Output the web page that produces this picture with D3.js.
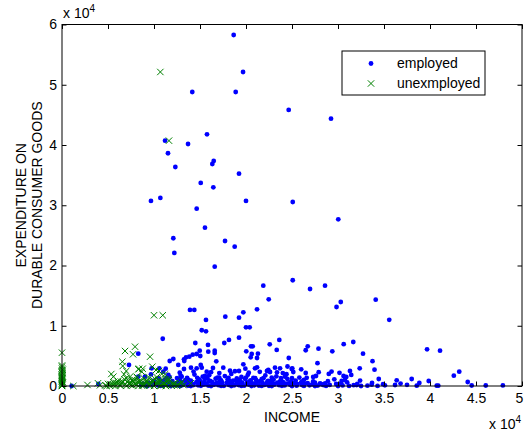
<!DOCTYPE html>
<html>
<head>
<meta charset="utf-8">
<script src="https://d3js.org/d3.v7.min.js"></script>
<style>
    body { margin: 0; background: #fff; }
    text { font-family: "Liberation Sans", Arial, sans-serif; }
</style>
</head>
<body>
<div id="chart"></div>
<script>
// income, expenditure on durable goods
var employed = [
    [18660, 58260], [19680, 52120], [14160, 48800], [18880, 48800], [24640, 45820], [29240, 44370],
    [15760, 41780], [11200, 40720], [13700, 40170], [11520, 38630], [12320, 36350], [16490, 37350],
    [16340, 36850], [19240, 35240], [15080, 33700], [16450, 32980], [9670, 30710], [10690, 31210],
    [20000, 30710], [25080, 30540], [14640, 29430], [30030, 27670], [15540, 26280], [12100, 24520],
    [17720, 24070], [18770, 23120], [12210, 22080], [16600, 19800], [25080, 17550], [21880, 16650],
    [22470, 14390], [26960, 16100], [28590, 16650], [19710, 12230], [19240, 11340], [21200, 12730],
    [29840, 13110], [30300, 13940], [34100, 14330], [35570, 10990], [13910, 12620], [14380, 12620],
    [15650, 10960], [17750, 11500], [20000, 9740], [20400, 9740], [15190, 9250], [15650, 9080],
    [10950, 7840], [18150, 7640], [19240, 8020], [23620, 7640], [17640, 7140], [14490, 7140],
    [15870, 6810], [20540, 6590], [20730, 6590], [22580, 6920], [26490, 5930], [26710, 6590],
    [27880, 6190], [29380, 5760], [30620, 6940], [31660, 7300], [32720, 5360], [39680, 6090],
    [41090, 5860], [20030, 5760], [21300, 5360], [20620, 5310], [21200, 4650], [20510, 4760],
    [16600, 5860], [16600, 5480], [14970, 5860], [15900, 5690], [15030, 4980], [14210, 5200],
    [14640, 5310], [13480, 4760], [13840, 4860], [13290, 4150], [13260, 4430], [11710, 4150],
    [12100, 4480], [16770, 4100], [8290, 5360], [23340, 5980], [24650, 4650], [27770, 3790],
    [33750, 4120], [19710, 3600], [15080, 3490], [12640, 3490], [7280, 3490], [24510, 3240],
    [21200, 3100], [23150, 3040], [14020, 3040], [15190, 3040], [17530, 3040], [16410, 2990],
    [20980, 2940], [19930, 2870], [23700, 2940], [25030, 2940], [32360, 2940], [14640, 2940],
    [11270, 2870], [10580, 2940], [9750, 2940], [13260, 2820], [24970, 2820], [26000, 2770],
    [33970, 2710], [22430, 2660], [18260, 2540], [19240, 2490], [22280, 2490], [11010, 2370],
    [15730, 2370], [43180, 2370], [22610, 2320], [25140, 2320], [23370, 2270], [30160, 2190],
    [26490, 2160], [9670, 1940], [31440, 1830], [11560, 1830], [15540, 1660], [27610, 1660],
    [30600, 1660], [42590, 1710], [24240, 1540], [13010, 1540], [9020, 1540], [8290, 1540],
    [27300, 1490], [34430, 1160], [38010, 1160], [13730, 1000], [30760, 1000], [36380, 950],
    [39860, 830], [30400, 830], [18260, 710], [44100, 660], [23700, 500], [38840, 500],
    [28050, 450], [3950, 330], [33660, 220], [32030, 170], [36200, 170], [28400, 170],
    [1050, 0], [44530, 80], [46060, 80], [47920, 100], [40730, 50], [40900, 50], [38560, 60]
];

// the crowded strip near zero expenditure
var employedLow = [
    [8600, 150], [9100, 80], [9800, 220], [10400, 120], [11000, 60], [11500, 260], [12100, 140],
    [12600, 90], [13200, 200], [13700, 50], [14300, 170], [14800, 110], [15400, 240], [15900, 70],
    [16500, 190], [17000, 130], [17600, 30], [18100, 210], [18700, 100], [19200, 160], [19800, 60],
    [20300, 230], [20900, 120], [21400, 80], [22000, 180], [22500, 40], [23100, 250], [23600, 140],
    [24200, 90], [24800, 200], [25500, 60], [26100, 150], [26900, 110], [27800, 70], [29100, 180],
    [30500, 90], [31700, 140], [33200, 60], [35100, 120],
    [9300, 0], [10700, 20], [11800, 0], [12900, 10], [14000, 0], [15100, 30], [16200, 0], [17300, 10],
    [18400, 0], [19500, 20], [20600, 0], [21700, 10], [22800, 0], [23900, 30], [25000, 0], [26300, 10],
    [27500, 0], [28700, 20], [30000, 0], [31200, 10], [32500, 0], [34300, 20],
    [8800, 380], [10400, 300], [11100, 350], [12900, 360], [13900, 420], [15000, 370], [16600, 330],
    [18100, 390], [19400, 360], [21000, 400], [22700, 350], [24300, 380], [26400, 360], [28200, 300],
    [30300, 410], [32100, 330],
    [9700, 330], [12300, 350], [14000, 300], [15600, 330], [17300, 310], [19000, 340], [20600, 320],
    [22200, 300], [23900, 350], [25600, 310], [27200, 280], [29800, 330],
    [9400, 520], [10100, 430], [10700, 650], [11300, 480], [11900, 580], [12400, 410], [13000, 700],
    [13500, 520], [14100, 450], [14600, 630], [15200, 560], [15700, 400], [16300, 680], [16800, 470],
    [17400, 600], [17900, 530], [18500, 420], [19000, 660], [19600, 500], [20100, 590], [20700, 440],
    [21200, 710], [21800, 510], [22300, 620], [22900, 460], [23400, 570], [24000, 690], [24600, 430],
    [25300, 540], [26000, 610], [26700, 480], [27500, 560], [28600, 450],
    [9900, 760], [10900, 790], [11600, 740], [12700, 780], [13800, 750], [15000, 800], [16000, 770],
    [17100, 740], [18200, 790], [19400, 760], [20400, 780], [21500, 750], [22700, 790], [23700, 770],
    [24900, 740], [26100, 780], [27300, 760],
    [10000, 900], [11200, 1050], [12000, 820], [12800, 1150], [13400, 960], [14000, 870], [14900, 1100],
    [15500, 1000], [16100, 850], [16700, 1200], [17300, 930], [18000, 1080], [18600, 880], [19300, 1020],
    [19900, 1180], [20500, 910], [21100, 990], [21700, 1130], [22400, 860], [23000, 1060], [23800, 940],
    [24500, 1170], [25400, 890], [26300, 1010],
    [10500, 1300], [11400, 1380], [12500, 1320], [14700, 1360], [15800, 1300], [17100, 1390],
    [18100, 1330], [19000, 1280], [20000, 1400], [20800, 1340], [21900, 1300], [22800, 1380],
    [23800, 1320], [25000, 1290], [26600, 1360],
    [11700, 1450], [12900, 1700], [13600, 1350], [14400, 1900], [15300, 1550], [16000, 1800],
    [16900, 1400], [17700, 1650], [18400, 2000], [19500, 1500], [20200, 1850], [21000, 1300],
    [22100, 1750], [23300, 1600], [24400, 1950], [25800, 1400],
    [12800, 2200], [14300, 2400], [16200, 2300], [17100, 2150], [18800, 2450], [20300, 2200],
    [21500, 2350], [24000, 2150], [27900, 2300], [29300, 2400], [31300, 2500],
    [28900, 800], [29600, 1100], [31000, 600], [32400, 900], [33700, 500], [34900, 300],
    [36800, 400], [37500, 200], [29000, 2000], [30900, 1500]
];

var unemployed = [
    [10690, 52120], [11630, 40720], [10000, 11740], [10950, 11740],
    [0, 5530], [0, 3200], [0, 2900], [0, 2400], [0, 1900], [0, 1550], [0, 1200], [0, 1000],
    [0, 700], [0, 400], [0, 200], [0, 0], [100, 600], [50, 2100],
    [0, 1400], [0, 1700], [0, 2200], [0, 2600], [0, 3400], [0, 800], [0, 100], [60, 1300],
    [80, 2700], [40, 500],
    [1230, 0], [2770, 170], [3910, 450], [4130, 120], [4860, 0], [5220, 280], [5580, 1540],
    [6120, 450], [5360, 1990], [6740, 1940], [6990, 2490], [6850, 5810], [7940, 6520], [7720, 5260],
    [9570, 4860], [6560, 4030], [6600, 3320], [8370, 2870], [8770, 2870], [9820, 3200], [10540, 2490],
    [11200, 1940], [11560, 1160], [12280, 450], [13040, 710], [13990, 450], [8300, 2770], [8660, 2370],
    [10220, 2660], [10840, 1990], [10470, 1000], [7390, 1540], [8120, 1540],
    [4700, 100], [5200, 50], [5800, 0], [6400, 80], [7000, 20], [7700, 100], [8300, 0], [8900, 120],
    [9500, 30], [10000, 0], [10700, 60], [11300, 0], [11900, 90], [12500, 30],
    [5500, 200], [5900, 500], [6300, 100], [6600, 700], [6900, 300], [7200, 900], [7500, 150],
    [7800, 550], [8100, 250], [8400, 800], [8700, 50], [9000, 400], [9300, 650], [9600, 200],
    [9900, 1000], [10200, 350], [10500, 600], [10800, 100], [11100, 450], [11400, 750], [11800, 250],
    [12200, 150],
    [5000, 350], [5700, 380], [6500, 450], [7300, 350], [8000, 420], [8600, 380], [9400, 350],
    [10400, 420], [11200, 350], [12100, 400], [12900, 380],
    [5600, 650], [6400, 720], [7100, 650], [7700, 780], [8500, 720], [9100, 650], [9800, 780],
    [10700, 700], [11600, 950],
    [6100, 800], [6800, 1100], [7400, 400], [7900, 1000], [8300, 650], [8800, 300], [9200, 900],
    [9700, 550], [10100, 1200], [10600, 850], [11000, 300], [11600, 600], [12600, 300], [13200, 150],
    [7000, 1300], [7600, 1000], [8200, 1350], [8900, 1250], [9400, 1500], [10300, 1450], [11300, 1100]
];

var xTicks = [0, 5000, 10000, 15000, 20000, 25000, 30000, 35000, 40000, 45000, 50000];
var yTicks = [0, 10000, 20000, 30000, 40000, 50000, 60000];
var seriesNames = ['employed', 'unexmployed'];

var scatterChart = function (options) {
    var self = {};

    for (var key in options) {
        self[key] = options[key];
    }

    self.init = function () {
        self.svg = d3.select('#' + self.parent_id)
            .append('svg')
            .attr('width', self.width)
            .attr('height', self.height)
            .style('display', 'block');

        self.x = d3.scaleLinear().domain([0, 50000]).range([self.left, self.right]);
        self.y = d3.scaleLinear().domain([0, 60000]).range([self.bottom, self.top]);
    };

    self.drawX = function (g) {
        var d = 3.2;
        g.append('line')
            .attr('x1', -d).attr('y1', -d).attr('x2', d).attr('y2', d);
        g.append('line')
            .attr('x1', -d).attr('y1', d).attr('x2', d).attr('y2', -d);
    };

    self.render = function () {
        var svg = self.svg;
        var fmt = function (d) { return d3.format('')(d / 10000); };

        // points, employed first then unemployed on top
        var dots = svg.append('g').attr('class', 'employed');
        dots.selectAll('circle')
            .data(employed.concat(employedLow))
            .enter().append('circle')
            .attr('cx', function (d) { return self.x(d[0]); })
            .attr('cy', function (d) { return self.y(d[1]); })
            .attr('r', 2.4)
            .attr('fill', '#0000ff');

        var crosses = svg.append('g').attr('class', 'unemployed')
            .attr('stroke', '#008000')
            .attr('stroke-width', 1);
        crosses.selectAll('g')
            .data(unemployed)
            .enter().append('g')
            .attr('transform', function (d) {
                return 'translate(' + self.x(d[0]) + ',' + self.y(d[1]) + ')';
            })
            .each(function () { self.drawX(d3.select(this)); });

        // axes, ticks pointing inward
        var bottomAxis = svg.append('g')
            .attr('transform', 'translate(0,' + self.bottom + ')')
            .call(d3.axisBottom(self.x).tickValues(xTicks).tickFormat(fmt)
                .tickSizeInner(-4.5).tickSizeOuter(0).tickPadding(7));
        var topAxis = svg.append('g')
            .attr('transform', 'translate(0,' + self.top + ')')
            .call(d3.axisTop(self.x).tickValues(xTicks).tickFormat('')
                .tickSizeInner(-4.5).tickSizeOuter(0));
        var leftAxis = svg.append('g')
            .attr('transform', 'translate(' + self.left + ',0)')
            .call(d3.axisLeft(self.y).tickValues(yTicks).tickFormat(fmt)
                .tickSizeInner(-4.5).tickSizeOuter(0).tickPadding(5));
        var rightAxis = svg.append('g')
            .attr('transform', 'translate(' + self.right + ',0)')
            .call(d3.axisRight(self.y).tickValues(yTicks).tickFormat('')
                .tickSizeInner(-4.5).tickSizeOuter(0));

        [bottomAxis, topAxis, leftAxis, rightAxis].forEach(function (a) {
            a.select('.domain').remove();
            a.selectAll('text')
                .attr('fill', '#000')
                .style('font-size', '14px')
                .style('font-family', '"Liberation Sans", Arial, sans-serif');
            a.selectAll('line').attr('stroke', '#000');
        });
        // last label sits right on the figure edge
        bottomAxis.selectAll('.tick text')
            .filter(function (d) { return d === 50000; })
            .attr('dx', -3);

        svg.append('rect')
            .attr('x', self.left)
            .attr('y', self.top)
            .attr('width', self.right - self.left)
            .attr('height', self.bottom - self.top)
            .attr('fill', 'none')
            .attr('stroke', '#000')
            .attr('stroke-width', 1);

        // exponent labels
        var expTop = svg.append('text')
            .attr('x', self.left + 1)
            .attr('y', 18)
            .style('font-size', '14px');
        expTop.append('tspan').text('x 10');
        expTop.append('tspan').attr('dy', -6).style('font-size', '10px').text('4');

        var expBottom = svg.append('text')
            .attr('x', 489)
            .attr('y', 429)
            .style('font-size', '14px');
        expBottom.append('tspan').text('x 10');
        expBottom.append('tspan').attr('dy', -6).style('font-size', '10px').text('4');

        // axis titles
        svg.append('text')
            .attr('x', (self.left + self.right) / 2)
            .attr('y', 422)
            .attr('text-anchor', 'middle')
            .style('font-size', '14px')
            .text('INCOME');

        var yc = (self.top + self.bottom) / 2;
        svg.append('text')
            .attr('transform', 'translate(26,' + yc + ') rotate(-90)')
            .attr('text-anchor', 'middle')
            .style('font-size', '14px')
            .text('EXPENDITURE ON');
        svg.append('text')
            .attr('transform', 'translate(42,' + yc + ') rotate(-90)')
            .attr('text-anchor', 'middle')
            .style('font-size', '14px')
            .text('DURABLE CONSUMER GOODS');

        // legend
        var legend = svg.append('g').attr('class', 'legend');
        legend.append('rect')
            .attr('x', 342).attr('y', 51)
            .attr('width', 143).attr('height', 44)
            .attr('fill', '#fff')
            .attr('stroke', '#000');

        legend.append('circle')
            .attr('cx', 371).attr('cy', 63.5)
            .attr('r', 2.4)
            .attr('fill', '#0000ff');
        var lx = legend.append('g')
            .attr('transform', 'translate(371,83.5)')
            .attr('stroke', '#008000');
        self.drawX(lx);

        legend.selectAll('.label')
            .data(seriesNames)
            .enter().append('text')
            .attr('class', 'label')
            .attr('x', 397)
            .attr('y', function (d, i) { return 63.5 + i * 20; })
            .attr('dy', '0.35em')
            .style('font-size', '14px')
            .text(function (d) { return d; });
    };

    self.init();
    return self;
};

var chart = new scatterChart({
    parent_id: 'chart',
    width: 524,
    height: 434,
    left: 62,
    right: 522,
    top: 24.5,
    bottom: 386
});

chart.render();
</script>
</body>
</html>
